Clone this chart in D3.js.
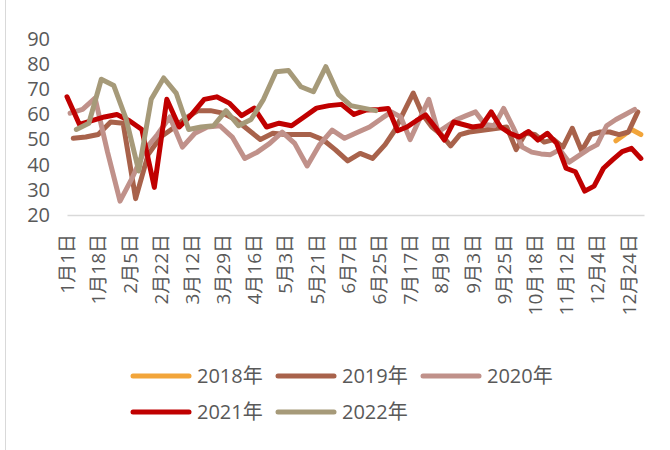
<!DOCTYPE html>
<html>
<head>
<meta charset="utf-8">
<script src="https://cdn.jsdelivr.net/npm/d3@7"></script>
<style>
  body { margin: 0; background: #fff; }
  text { font-family: "Open Sans", "Noto Sans CJK SC", sans-serif; fill: #595959; }
</style>
</head>
<body>
<svg width="670" height="450"></svg>
<script>
// x is the position in the combined (month-day) date list of all years,
// a label is shown on every 10th date
var tickLabels = ['1月1日', '1月18日', '2月5日', '2月22日', '3月12日', '3月29日', '4月16日',
    '5月3日', '5月21日', '6月7日', '6月25日', '7月17日', '8月9日', '9月3日', '9月25日',
    '10月18日', '11月12日', '12月4日', '12月24日'];
var lastSlot = 185;
var yTicks = [20, 30, 40, 50, 60, 70, 80, 90];

var names = ['2018年', '2019年', '2020年', '2021年', '2022年'];

var s2018 = [[176, 49.5], [181, 54], [184, 52]];

var s2019 = [[2, 50.5], [6, 51], [10, 52], [14, 57], [18, 56.5], [22, 26.5], [26, 44], [30, 51],
    [34, 54.5], [38, 58.5], [42, 61.5], [46, 61.5], [50, 60.5], [54, 58], [58, 54], [62, 50],
    [66, 52.5], [70, 52], [74, 52], [78, 52], [82, 50], [86, 46], [90, 41.5], [94, 44.5],
    [98, 42.5], [102, 48], [105, 53.5], [108, 61], [111, 68.5], [114, 60], [117, 55], [120, 52],
    [123, 47.5], [126, 52], [129, 53], [132, 53.5], [135, 54], [138, 54.5], [141, 55], [144, 46],
    [147, 52.5], [150, 52], [153, 49], [156, 50], [159, 47], [162, 54.5], [165, 45.5], [168, 52],
    [171, 53], [174, 53], [177, 52], [180, 53], [183, 61]];

var s2020 = [[1, 60.5], [5, 62], [9, 66.5], [13, 45], [17, 25.5], [21, 35], [25, 46], [29, 52],
    [33, 59], [37, 47], [41, 52.5], [45, 55], [49, 55.5], [53, 51], [57, 42.5], [61, 45],
    [65, 48.5], [69, 53], [73, 48.5], [77, 39.5], [81, 48], [85, 53.8], [89, 50.5], [93, 52.8],
    [97, 55], [101, 58.5], [104, 61], [107, 59], [110, 50], [113, 58], [116, 66], [119, 53],
    [122, 55.5], [125, 58], [128, 59.5], [131, 61], [134, 56], [137, 55.5], [140, 62.4], [143, 55],
    [146, 47], [149, 45], [152, 44.3], [155, 44], [158, 46], [161, 41], [164, 43.5], [167, 46],
    [170, 48], [173, 55.5], [176, 58], [179, 60], [182, 62]];

var s2021 = [[0, 67], [4, 56], [8, 57.5], [12, 59], [16, 60], [20, 57.5], [24, 54], [28, 31],
    [32, 66], [36, 55], [40, 60], [44, 66], [48, 67], [52, 64.5], [56, 59.5], [60, 62.5],
    [64, 55], [68, 56.5], [72, 55.5], [76, 59], [80, 62.5], [84, 63.5], [88, 64], [92, 60],
    [96, 61.8], [100, 62], [103, 62.4], [106, 53.5], [109, 55], [112, 57.5], [115, 59.8], [118, 55],
    [121, 49.8], [124, 57], [127, 56], [130, 55], [133, 55.5], [136, 61], [139, 55], [142, 52.5],
    [145, 51], [148, 53.2], [151, 49.8], [154, 52.5], [157, 48.5], [160, 38.6], [163, 37.2],
    [166, 29.5], [169, 31.5], [172, 38.6], [175, 42], [178, 45.2], [181, 46.5], [184, 42.5]];

var s2022 = [[3, 54], [7, 56.5], [11, 74], [15, 71.5], [19, 58], [23, 37.5], [27, 66], [31, 74.5],
    [35, 68.5], [39, 54], [43, 55], [47, 55.5], [51, 61.5], [55, 55.5], [59, 58], [63, 66],
    [67, 77], [71, 77.5], [75, 71], [79, 69], [83, 79], [87, 68], [91, 63.5], [95, 62.5], [99, 61.5]];

var series = [s2018, s2019, s2020, s2021, s2022];
var colors = ['#F2A53A', '#A8624B', '#C0918A', '#C00000', '#A69A79'];

var svg = d3.select('svg');

// left border of the chart box
svg.append('line')
    .attr('x1', 5.5).attr('x2', 5.5)
    .attr('y1', 0).attr('y2', 450)
    .style('stroke', '#D9D9D9')
    .style('stroke-width', 1);

var x = d3.scaleLinear().domain([0, lastSlot]).range([67, 644]);
var y = d3.scaleLinear().domain([20, 90]).range([215, 39]);

// y axis: labels only
var yAxis = svg.append('g')
    .attr('transform', 'translate(52,0)')
    .call(d3.axisLeft(y).tickValues(yTicks).tickSize(0).tickPadding(2));
yAxis.select('.domain').remove();
yAxis.selectAll('text')
    .style('font-size', '20px')
    .style('fill', '#595959');

// x axis
var xAxis = svg.append('g')
    .attr('transform', 'translate(0,215)')
    .call(d3.axisBottom(x)
        .tickValues(tickLabels.map(function(d, i) { return i * 10; }))
        .tickFormat(function(d, i) { return tickLabels[i]; })
        .tickSize(0)
        .tickSizeOuter(0));
xAxis.select('.domain')
    .style('stroke', '#D9D9D9')
    .style('stroke-width', 1.5);
xAxis.selectAll('text')
    .attr('transform', 'rotate(-90)')
    .attr('text-anchor', 'end')
    .attr('x', -19)
    .attr('y', 0)
    .attr('dy', '0.35em')
    .style('font-size', '19px')
    .style('fill', '#595959');

var line = d3.line()
    .x(function(d) { return x(d[0]); })
    .y(function(d) { return y(d[1]); });

series.forEach(function(s, i) {
    svg.append('path')
        .datum(s)
        .attr('d', line)
        .style('fill', 'none')
        .style('stroke', colors[i])
        .style('stroke-width', 5)
        .style('stroke-linejoin', 'round')
        .style('stroke-linecap', 'round');
});

// legend, 3 per row
var legend = svg.selectAll('.legend')
    .data(names)
    .enter().append('g')
    .attr('class', 'legend')
    .attr('transform', function(d, i) {
        return 'translate(' + (133 + (i % 3) * 145) + ',' + (376 + Math.floor(i / 3) * 36) + ')';
    });

legend.append('line')
    .attr('x1', 0).attr('x2', 56)
    .attr('y1', 0).attr('y2', 0)
    .style('stroke', function(d, i) { return colors[i]; })
    .style('stroke-width', 5)
    .style('stroke-linecap', 'round');

legend.append('text')
    .attr('x', 64)
    .attr('y', 0)
    .attr('dy', '0.35em')
    .style('font-size', '20px')
    .text(function(d) { return d; });
</script>
</body>
</html>
